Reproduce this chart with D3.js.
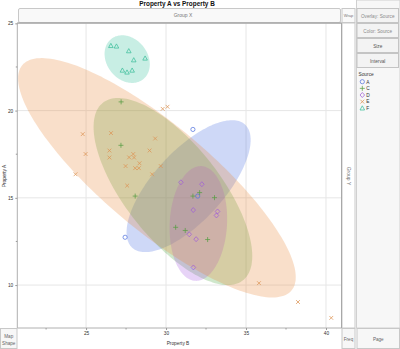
<!DOCTYPE html>
<html><head><meta charset="utf-8">
<script src="https://cdn.jsdelivr.net/npm/d3@7"></script>
<style>body{margin:0;background:#fff;overflow:hidden} text{font-family:"Liberation Sans",Arial,sans-serif;}</style>
</head><body><svg id="c" width="400" height="349"></svg>
<script>
// ---------- data ----------
const title = "Property A vs Property B";
const xLabel = "Property B", yLabel = "Property A";
const sources = ["A", "C", "D", "E", "F"];
const xA = [31.68, 27.44, 31.98];
const yA = [18.92, 12.74, 15.10];
const xC = [27.19, 27.18, 28.07, 31.68, 32.10, 33.03, 30.60, 31.20, 32.60];
const yC = [20.50, 18.01, 15.10, 15.10, 15.30, 15.01, 13.31, 13.13, 12.61];
const xD = [30.93, 32.24, 31.70, 33.22, 33.15, 31.45, 31.88, 31.71];
const yD = [15.89, 15.78, 14.30, 14.22, 13.99, 12.91, 12.63, 11.01];
const xE = [24.79, 26.56, 24.97, 26.46, 26.46, 24.34, 29.32, 28.97, 27.95, 27.69, 28.00, 28.34,
            27.47, 28.07, 28.30, 29.13, 29.67, 27.57, 29.79, 30.09, 35.81, 38.25, 40.33];
const yE = [18.65, 18.71, 17.51, 17.71, 17.31, 16.35, 18.40, 17.71, 17.51, 17.32, 17.31, 16.98,
            16.82, 16.70, 16.70, 16.35, 16.82, 15.70, 20.10, 20.22, 10.11, 9.03, 8.12];
const xF = [26.55, 26.90, 27.67, 27.98, 28.69, 27.27, 27.56, 27.88];
const yF = [23.71, 23.68, 23.41, 22.89, 22.99, 22.30, 22.19, 22.30];
// density ellipses per source: centre, half extents, correlation
const ellCx  = [31.41, 30.43, 32.02, 29.43, 27.57];
const ellCy  = [15.67, 15.36, 13.53, 16.15, 22.95];
const ellRx  = [3.88, 4.96, 1.80, 8.68, 1.414];
const ellRy  = [3.78, 5.36, 3.29, 6.86, 1.366];
const ellRho = [0.70, -0.69, 0.08, -0.83, -0.22];
const xTicks = [25, 30, 35, 40];
const yTicks = [10, 15, 20, 25];
const xMinor = [22.5, 27.5, 32.5, 37.5];
const yMinor = [12.5, 17.5, 22.5];
const xDomain = [20.70, 40.97];
const yDomain = [7.54, 25.02];
const buttons = ["Overlay: Source", "Color: Source", "Size", "Interval"];

// ---------- style ----------
const colors = {A: "#4a6fe3", C: "#4fa83d", D: "#a85ce0", E: "#e8883a", F: "#35bf9a"};
const markColors = {A: "#5576dd", C: "#5a9e45", D: "#a060d6", E: "#dc9455", F: "#3fbf9c"};
const seriesX = {A: xA, C: xC, D: xD, E: xE, F: xF};
const seriesY = {A: yA, C: yC, D: yD, E: yE, F: yF};

const svg = d3.select("#c");
const P = {l: 17.3, r: 341.5, t: 23, b: 328};
const x = d3.scaleLinear().domain(xDomain).range([P.l, P.r]);
const y = d3.scaleLinear().domain(yDomain).range([P.b, P.t]);

// ---------- chrome ----------
svg.append("rect").attr("x", 356.5).attr("y", 0).attr("width", 43.5).attr("height", 328)
  .attr("fill", "#f7f7f7").attr("stroke", "#d0d0d0");
svg.append("rect").attr("x", 18.5).attr("y", 8.5).attr("width", 322).attr("height", 14)
  .attr("rx", 1.5).attr("fill", "#f9f9f9").attr("stroke", "#c8c8c8");
svg.append("text").attr("x", 183).attr("y", 17.3).attr("text-anchor", "middle")
  .attr("font-size", 5).attr("fill", "#777").text("Group X");
svg.append("rect").attr("x", 342).attr("y", 8.5).attr("width", 13).attr("height", 14)
  .attr("fill", "#f9f9f9").attr("stroke", "#c8c8c8");
svg.append("text").attr("x", 348.5).attr("y", 17.2).attr("text-anchor", "middle")
  .attr("font-size", 4).attr("fill", "#777").text("Wrap");
svg.append("rect").attr("x", 342).attr("y", 23).attr("width", 13).attr("height", 305)
  .attr("fill", "#fff").attr("stroke", "#c8c8c8");
svg.append("text").attr("transform", "translate(347,176) rotate(90)").attr("text-anchor", "middle")
  .attr("font-size", 5).attr("fill", "#777").text("Group Y");
[[0.5, 16.5, ["Map", "Shape"]], [342, 13, ["Freq"]], [357, 42.5, ["Page"]]].forEach(([bx, bw, lines]) => {
  svg.append("rect").attr("x", bx).attr("y", 328.5).attr("width", bw).attr("height", 20)
    .attr("fill", "#f7f7f7").attr("stroke", "#c8c8c8");
  lines.forEach((s, i) => svg.append("text").attr("x", bx + bw / 2)
    .attr("y", lines.length === 1 ? 340.5 : 338 + i * 6.6).attr("text-anchor", "middle")
    .attr("font-size", 4.6).attr("fill", "#666").text(s));
});
buttons.forEach((b, i) => {
  const by = 8.5 + i * 15;
  svg.append("rect").attr("x", 357).attr("y", by).attr("width", 41.5).attr("height", 14)
    .attr("fill", "#f3f3f3").attr("stroke", "#c4c4c4");
  svg.append("text").attr("x", 377.7).attr("y", by + 9).attr("text-anchor", "middle")
    .attr("font-size", 4.7).attr("fill", i < 2 ? "#8a8a8a" : "#555")
    .attr("font-family", "'Liberation Serif',serif").text(b);
});

svg.append("text").attr("x", 177).attr("y", 6.3).attr("text-anchor", "middle")
  .attr("font-size", 6.4).attr("font-weight", "bold").attr("fill", "#111").text(title);

// ---------- plot ----------
const g = svg.append("g");
g.append("rect").attr("x", P.l).attr("y", P.t).attr("width", P.r - P.l).attr("height", P.b - P.t).attr("fill", "#fff");
g.selectAll(".gx").data(xTicks).join("line").attr("x1", d => x(d)).attr("x2", d => x(d))
  .attr("y1", P.t).attr("y2", P.b).attr("stroke", "#e6e6e6").attr("stroke-width", 1);
g.selectAll(".gy").data(yTicks).join("line").attr("y1", d => y(d)).attr("y2", d => y(d))
  .attr("x1", P.l).attr("x2", P.r).attr("stroke", "#e6e6e6").attr("stroke-width", 1);

svg.append("clipPath").attr("id", "clip").append("rect")
  .attr("x", P.l).attr("y", P.t).attr("width", P.r - P.l).attr("height", P.b - P.t);
const ge = g.append("g").attr("clip-path", "url(#clip)");
const tt = d3.range(0, 181).map(i => i / 180 * 2 * Math.PI);
const line = d3.line().curve(d3.curveLinearClosed);
sources.forEach((s, i) => {
  const r = ellRho[i], q = Math.sqrt(1 - r * r);
  const pts = tt.map(t => [x(ellCx[i] + ellRx[i] * Math.cos(t)),
                          y(ellCy[i] + ellRy[i] * (r * Math.cos(t) + q * Math.sin(t)))]);
  ge.append("path").attr("d", line(pts)).attr("fill", colors[s]).attr("fill-opacity", 0.27);
});

function marker(s) {
  const p = d3.path();
  if (s === "A") { p.moveTo(2.1, 0); p.arc(0, 0, 2.1, 0, 2 * Math.PI); }
  else if (s === "C") { p.moveTo(-2.5, 0); p.lineTo(2.5, 0); p.moveTo(0, -2.5); p.lineTo(0, 2.5); }
  else if (s === "D") { p.moveTo(0, -2.5); p.lineTo(2.3, 0); p.lineTo(0, 2.5); p.lineTo(-2.3, 0); p.closePath(); }
  else if (s === "E") { p.moveTo(-1.9, -1.9); p.lineTo(1.9, 1.9); p.moveTo(1.9, -1.9); p.lineTo(-1.9, 1.9); }
  else { p.moveTo(0, -2.5); p.lineTo(2.3, 1.7); p.lineTo(-2.3, 1.7); p.closePath(); }
  return p.toString();
}
sources.forEach(s => {
  const xs = seriesX[s], ys = seriesY[s];
  ge.selectAll(null).data(xs.map((v, j) => [v, ys[j]])).join("path")
    .attr("transform", d => `translate(${x(d[0])},${y(d[1])})`)
    .attr("d", marker(s)).attr("fill", "none").attr("stroke", markColors[s]).attr("stroke-width", 0.75);
});

g.append("line").attr("x1", P.l).attr("x2", P.l).attr("y1", P.t).attr("y2", P.b).attr("stroke", "#b0b0b0");
g.append("line").attr("x1", P.l).attr("x2", P.r).attr("y1", P.b).attr("y2", P.b).attr("stroke", "#b0b0b0");
g.append("line").attr("x1", P.l).attr("x2", P.r).attr("y1", P.t).attr("y2", P.t).attr("stroke", "#a8a8a8").attr("stroke-width", 1.4);
g.append("line").attr("x1", P.r).attr("x2", P.r).attr("y1", P.t).attr("y2", P.b).attr("stroke", "#a8a8a8");

const ax = d3.axisBottom(x).tickValues(xTicks).tickSize(2).tickPadding(2).tickFormat(d3.format("d"));
const axg = svg.append("g").attr("transform", `translate(0,${P.b})`).call(ax);
axg.select(".domain").remove();
axg.selectAll("line").attr("stroke", "#999");
axg.selectAll("text").attr("font-size", 4.8).attr("fill", "#333");
svg.selectAll(".mx").data(xMinor).join("line").attr("x1", d => x(d)).attr("x2", d => x(d))
  .attr("y1", P.b).attr("y2", P.b + 1.5).attr("stroke", "#999");
const ay = d3.axisLeft(y).tickValues(yTicks).tickSize(2).tickPadding(2).tickFormat(d3.format("d"));
const ayg = svg.append("g").attr("transform", `translate(${P.l},0)`).call(ay);
ayg.select(".domain").remove();
ayg.selectAll("line").attr("stroke", "#999");
ayg.selectAll("text").attr("font-size", 4.8).attr("fill", "#333");
svg.selectAll(".my").data(yMinor).join("line").attr("y1", d => y(d)).attr("y2", d => y(d))
  .attr("x1", P.l - 1.5).attr("x2", P.l).attr("stroke", "#999");
svg.append("text").attr("x", 178).attr("y", 345).attr("text-anchor", "middle")
  .attr("font-size", 4.8).attr("fill", "#333").text(xLabel);
svg.append("text").attr("transform", "translate(5.5,176) rotate(-90)").attr("text-anchor", "middle")
  .attr("font-size", 4.8).attr("fill", "#333").text(yLabel);

svg.append("text").attr("x", 358.5).attr("y", 76).attr("font-size", 4.8).attr("fill", "#333").text("Source");
sources.forEach((s, i) => {
  const ly = 81.7 + i * 6.65;
  svg.append("path").attr("transform", `translate(362.3,${ly})`).attr("d", marker(s))
    .attr("fill", "none").attr("stroke", markColors[s]).attr("stroke-width", 0.75);
  svg.append("text").attr("x", 366.3).attr("y", ly + 1.8).attr("font-size", 4.8).attr("fill", "#333").text(s);
});
</script></body></html>
